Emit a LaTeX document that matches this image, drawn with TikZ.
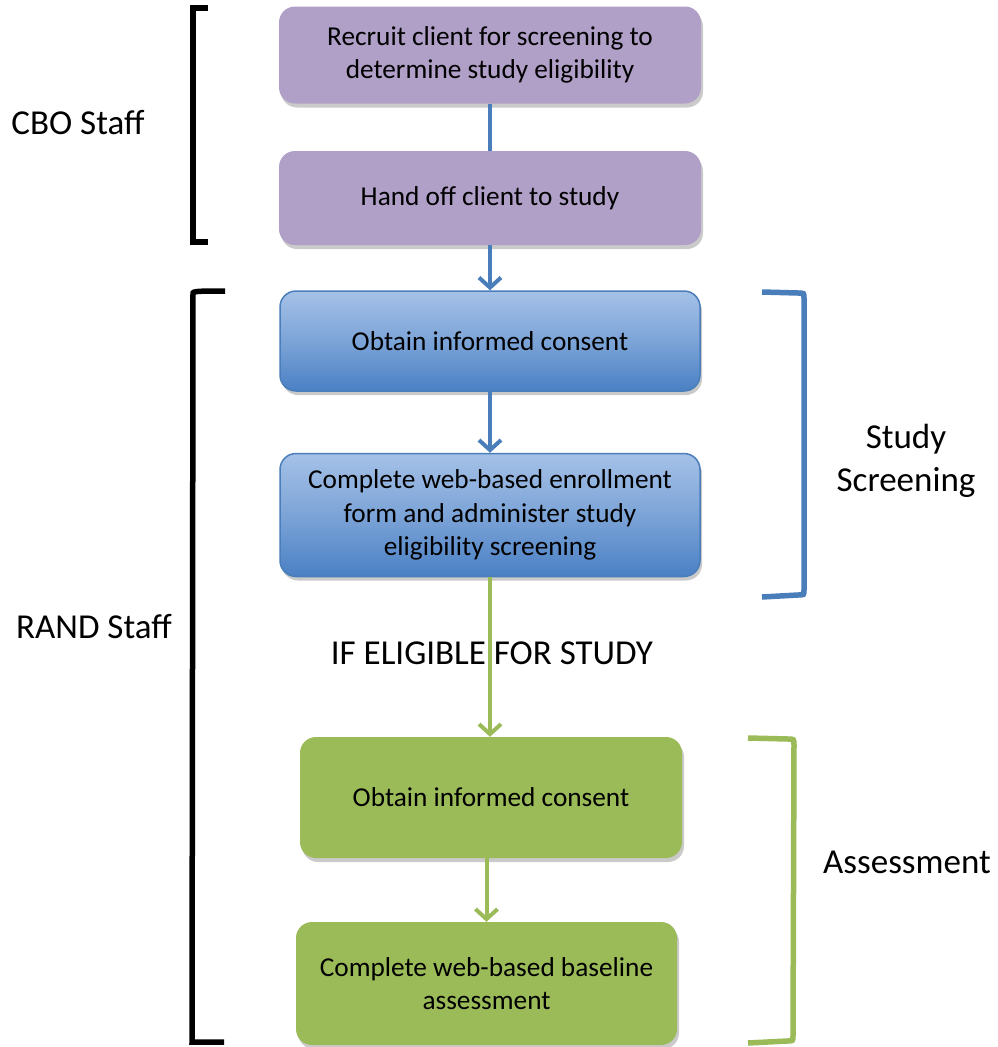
\documentclass[tikz,border=0pt]{standalone}
\usepackage{fontspec}
\setmainfont{Carlito}
\usetikzlibrary{arrows.meta,shadows}
\definecolor{purpleF}{HTML}{B09FC7}
\definecolor{blueTop}{HTML}{A5C1E7}
\definecolor{blueBot}{HTML}{4A80C4}
\definecolor{blueL}{HTML}{4A7EBB}
\definecolor{greenF}{HTML}{9BBB59}
\begin{document}
\begin{tikzpicture}[x=1pt,y=-1pt,
  boxbase/.style={rectangle, rounded corners=16pt, align=center, inner sep=0pt,
    font=\fontsize{27.3}{33.3}\selectfont,
    drop shadow={shadow xshift=2pt, shadow yshift=-4pt, opacity=0.35, fill=black!60}},
  pbox/.style={boxbase, fill=purpleF},
  bbox/.style={boxbase, top color=blueTop, bottom color=blueBot, middle color=blueTop!55!blueBot, draw=blueL, line width=1.5pt},
  gbox/.style={boxbase, fill=greenF},
  bluearrow/.style={draw=blueL, line width=4pt, -{Straight Barb[length=10pt, width=22pt, line width=4pt]}},
  greenarrow/.style={draw=greenF, line width=4pt, -{Straight Barb[length=10pt, width=22pt, line width=4pt]}},
  brk/.style={line width=5.5pt, line cap=butt, line join=miter},
  lbl/.style={font=\fontsize{35}{42.7}\selectfont, align=center, inner sep=0pt}
]
\useasboundingbox (0,0) rectangle (998,1047);

% boxes
\node[pbox, minimum width=422pt, minimum height=97pt] (p1) at (490,55) {Recruit client for screening to\\determine study eligibility};
\node[pbox, minimum width=422pt, minimum height=94pt] (p2) at (490,198) {Hand off client to study};
\node[bbox, minimum width=420pt, minimum height=100pt] (b1) at (490,341) {Obtain informed consent};
\node[bbox, minimum width=420pt, minimum height=123pt] (b2) at (490,515) {Complete web-based enrollment\\form and administer study\\eligibility screening};
\node[gbox, minimum width=382pt, minimum height=121pt] (g1) at (491,797.5) {Obtain informed consent};
\node[gbox, minimum width=381pt, minimum height=123pt] (g2) at (486.5,983.5) {Complete web-based baseline\\assessment};

% arrows
\draw[draw=blueL, line width=4pt] (p1.south) -- (p2.north);
\draw[bluearrow] (p2.south) -- (b1.north);
\draw[bluearrow] (b1.south) -- (b2.north);
\draw[greenarrow] (b2.south) -- (b2.south |- g1.north);
\draw[greenarrow] (g2.north |- g1.south) -- (g2.north);

% brackets
\coordinate (c1t) at (208,8);
\coordinate (c1b) at (208,242);
\draw[brk, black] (c1t) -- (193,8) -- (193,242) -- (c1b);
\coordinate (r1t) at (225,291);
\coordinate (r1b) at (224,1042);
\draw[brk, black] (r1t) .. controls (205,291) and (193,291) .. (193,293) -- (192,1042) -- (r1b);
\coordinate (s1t) at (762,292);
\coordinate (s1b) at (762,597);
\draw[brk, blueL] (s1t) -- (798,293) .. controls (804,293) .. (804,298) -- (804,590) .. controls (804,595) .. (798,595) -- (s1b);
\coordinate (a1t) at (748,738);
\coordinate (a1b) at (748,1043);
\draw[brk, greenF] (a1t) -- (788,739) .. controls (794,739) .. (794,745) -- (793,1036) .. controls (793,1041) .. (787,1041) -- (a1b);

% labels
\node[lbl] (cbo) at (78,123) {CBO Staff};
\node[lbl] (rand) at (94,627) {RAND Staff};
\node[lbl] (ss) at (906,461) {Study\\Screening};
\node[lbl] (as) at (907,862) {Assessment};
\node[lbl] (ie) at (492,653) {IF ELIGIBLE FOR STUDY};
\end{tikzpicture}
\end{document}
